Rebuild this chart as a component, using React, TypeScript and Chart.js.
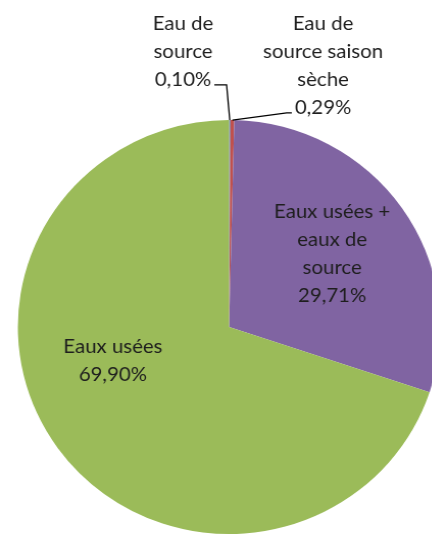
import React, { useEffect, useRef } from "react";
import { Chart, registerables } from "chart.js";

Chart.register(...registerables);

const categories = [
  "Eau de source",
  "Eau de source saison sèche",
  "Eaux usées + eaux de source",
  "Eaux usées",
];
const values = [0.1, 0.29, 29.71, 69.9];
const valueLabels = ["0,10%", "0,29%", "29,71%", "69,90%"];
const labelLines = [
  ["Eau de", "source"],
  ["Eau de", "source saison", "sèche"],
  ["Eaux usées +", "eaux de", "source"],
  ["Eaux usées"],
];
const colors = ["#4F81BD", "#C0504D", "#8064A2", "#9BBB59"];

// label block centres, as fractions of radius from the pie centre
const labelOffsets = [
  [-0.218, -1.329],
  [0.445, -1.261],
  [0.488, -0.353],
  [-0.55, 0.16],
];
const outside = [true, true, false, false];
const STRETCH = 1.02;

const labelPlugin = {
  id: "pieLabels",
  afterDraw(chart: any) {
    const ctx = chart.ctx;
    const meta = chart.getDatasetMeta(0);
    ctx.save();
    ctx.font = "20px Lato";
    ctx.fillStyle = "#1e1e1e";
    ctx.textAlign = "center";
    ctx.textBaseline = "middle";
    const lh = 28;
    meta.data.forEach((arc: any, i: number) => {
      const r = arc.outerRadius;
      const cx = arc.x + labelOffsets[i][0] * r;
      const cy = arc.y + labelOffsets[i][1] * r;
      const lines = [...labelLines[i], valueLabels[i]];
      const top = cy - ((lines.length - 1) * lh) / 2;
      lines.forEach((t, k) => ctx.fillText(t, cx, top + k * lh));
      if (outside[i]) {
        const mid = (arc.startAngle + arc.endAngle) / 2;
        const rx = arc.x + Math.cos(mid) * r;
        const ry = arc.y + Math.sin(mid) * r;
        const lastY = top + (lines.length - 1) * lh + 5;
        const w = ctx.measureText(valueLabels[i]).width;
        const right = rx > cx;
        const sx = right ? cx + w / 2 + 3 : cx - w / 2 - 3;
        const ex = right ? sx + 12 : sx - 5;
        ctx.strokeStyle = "#000";
        ctx.lineWidth = 1.3;
        ctx.beginPath();
        ctx.moveTo(sx, lastY);
        ctx.lineTo(ex, lastY);
        ctx.lineTo(rx, ry);
        ctx.stroke();
      }
    });
    ctx.restore();
  },
};

export default function App() {
  const ref = useRef<HTMLCanvasElement>(null);
  useEffect(() => {
    const canvas = ref.current!;
    const chart = new Chart(canvas, {
      type: "pie",
      data: {
        labels: categories,
        datasets: [
          {
            data: values,
            backgroundColor: colors,
            borderWidth: 0,
          },
        ],
      },
      options: {
        responsive: false,
        animation: false,
        layout: { padding: { left: 17.5, right: 8.5, top: 120, bottom: 2 } },
        plugins: {
          legend: { display: false },
          tooltip: { enabled: false },
        },
      },
      plugins: [labelPlugin],
    });
    return () => chart.destroy();
  }, []);
  return (
    <div
      style={{
        position: "fixed",
        left: 0,
        top: 0,
        width: 432,
        height: 536,
        overflow: "hidden",
        background: "#fff",
      }}
    >
      <canvas
        ref={ref}
        width={440}
        height={536}
        style={{
          position: "absolute",
          left: 0,
          top: 0,
          width: 440 * STRETCH,
          height: 536,
        }}
      />
    </div>
  );
}
